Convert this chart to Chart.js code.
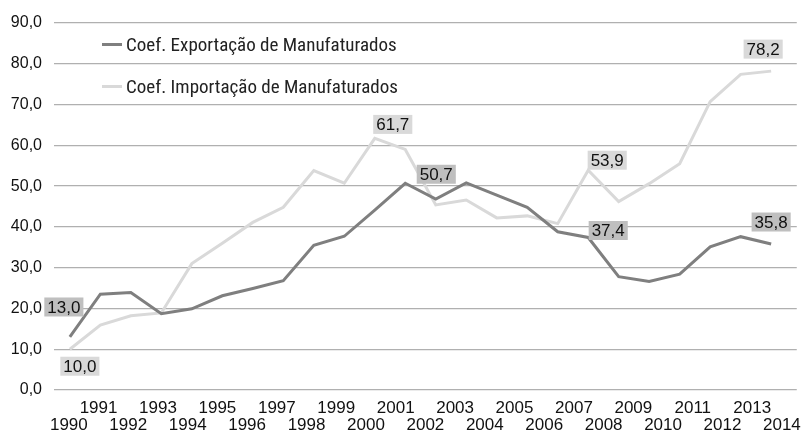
<!DOCTYPE html>
<html>
<head>
<meta charset="utf-8">
<script src="https://cdn.jsdelivr.net/npm/chart.js@4"></script>
<style>
    body { margin: 0; background: #fff; }
    #wrap { position: relative; width: 811px; height: 436px; }
    .legend-item { position: absolute; left: 102px; height: 24px; line-height: 24px; font-family: "Roboto Condensed", "DejaVu Sans Condensed", sans-serif; font-size: 19px; color: #222; white-space: nowrap; }
    .legend-item span { display: inline-block; width: 20px; height: 3px; vertical-align: middle; margin-right: 4px; position: relative; top: -1px; }
</style>
</head>
<body>
<div id="wrap">
    <canvas id="coefChart" width="811" height="436"></canvas>
    <div class="legend-item" style="top: 33px;"><span style="background:#7f7f7f"></span>Coef. Exportação de Manufaturados</div>
    <div class="legend-item" style="top: 75px;"><span style="background:#d9d9d9"></span>Coef. Importação de Manufaturados</div>
</div>
<script>
// Tick labels on the x axis (1990 - 2014)
const years = [1990, 1991, 1992, 1993, 1994, 1995, 1996, 1997, 1998, 1999, 2000, 2001, 2002,
    2003, 2004, 2005, 2006, 2007, 2008, 2009, 2010, 2011, 2012, 2013, 2014];

// Series values, one per year from 1990
const exportacao = [13.0, 23.5, 23.9, 18.7, 19.9, 23.1, 24.9, 26.8, 35.5, 37.7, 44.1, 50.7,
    46.8, 50.8, 47.8, 44.8, 38.8, 37.4, 27.8, 26.6, 28.4, 35.1, 37.6, 35.8];
const importacao = [10.0, 15.9, 18.2, 18.9, 31.0, 36.0, 41.1, 44.8, 53.8, 50.7, 61.7, 59.0,
    45.4, 46.6, 42.2, 42.7, 40.8, 53.9, 46.2, 50.6, 55.5, 70.7, 77.4, 78.2];

// Which points carry a value label
const exportacaoLabelIdx = [0, 11, 17, 23];
const importacaoLabelIdx = [0, 10, 17, 23];

// Label box placement relative to its point (dx, dy of the box centre) and box colour
const labelStyle = [
    { boxColor: '#bfbfbf', offsets: [[-6, -30], [31, -9], [20, -7], [0, -22]] },
    { boxColor: '#d9d9d9', offsets: [[10, 17], [18, -14], [19, -10], [-8, -22]] }
];

const toPoints = values => values.map((v, i) => ({ x: years[i], y: v }));
const fmt = v => v.toFixed(1).replace('.', ',');

const valueLabels = {
    id: 'valueLabels',
    afterDatasetsDraw(chart) {
        const ctx = chart.ctx;
        ctx.save();
        ctx.font = '17px "Liberation Sans", Arial, sans-serif';
        ctx.textAlign = 'center';
        ctx.textBaseline = 'middle';
        chart.data.datasets.forEach((ds, di) => {
            const meta = chart.getDatasetMeta(di);
            const style = labelStyle[di];
            ds.labelIdx.forEach((idx, k) => {
                const el = meta.data[idx];
                const cx = el.x + style.offsets[k][0];
                const cy = el.y + style.offsets[k][1];
                const text = fmt(ds.data[idx].y);
                const w = ctx.measureText(text).width + 6;
                ctx.fillStyle = style.boxColor;
                ctx.fillRect(cx - w / 2, cy - 9.5, w, 19);
                ctx.fillStyle = '#111';
                ctx.fillText(text, cx, cy + 1);
            });
        });
        ctx.restore();
    }
};

const ctx = document.getElementById('coefChart').getContext('2d');
const coefChart = new Chart(ctx, {
    type: 'line',
    data: {
        labels: years.map(String),
        datasets: [{
            label: 'Coef. Exportação de Manufaturados',
            data: toPoints(exportacao),
            labelIdx: exportacaoLabelIdx,
            xAxisID: 'xd',
            borderColor: '#7f7f7f',
            borderWidth: 3,
            pointRadius: 0,
            tension: 0,
            fill: false
        }, {
            label: 'Coef. Importação de Manufaturados',
            data: toPoints(importacao),
            labelIdx: importacaoLabelIdx,
            xAxisID: 'xd',
            borderColor: '#d9d9d9',
            borderWidth: 3,
            pointRadius: 0,
            tension: 0,
            fill: false
        }]
    },
    options: {
        responsive: false,
        animation: false,
        layout: { padding: { top: 23, left: 8, right: 9, bottom: 3 } },
        plugins: {
            legend: { display: false },
            tooltip: { enabled: false }
        },
        scales: {
            x: {
                type: 'category',
                offset: true,
                grid: { display: false, drawTicks: false },
                border: { display: false },
                afterFit: scale => { scale.height = 43; },
                ticks: {
                    autoSkip: false,
                    maxRotation: 0,
                    padding: 10,
                    color: '#111',
                    font: { family: '"Liberation Sans", Arial, sans-serif', size: 17, lineHeight: 1 },
                    callback: function(value, index) {
                        const lab = this.getLabelForValue(value);
                        return index % 2 ? [lab, ''] : ['', lab];
                    }
                }
            },
            xd: {
                type: 'linear',
                display: false,
                min: 1989.48,
                max: 2013.84
            },
            y: {
                min: 0,
                max: 90,
                grid: { color: '#b0b0b0', lineWidth: 1.3, drawTicks: false },
                border: { display: false },
                afterFit: scale => { scale.width = 46; },
                ticks: {
                    stepSize: 10,
                    padding: 12,
                    color: '#111',
                    font: { family: '"Liberation Sans", Arial, sans-serif', size: 16 },
                    callback: v => fmt(v)
                }
            }
        }
    },
    plugins: [valueLabels]
});
</script>
</body>
</html>
